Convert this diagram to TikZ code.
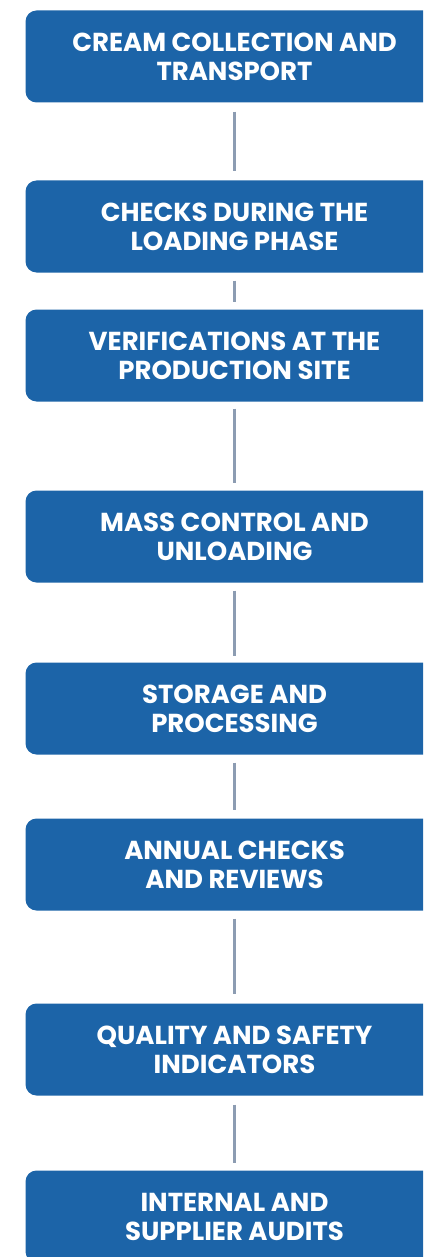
\documentclass[tikz,border=0pt]{standalone}
\usepackage{fontspec}
\setmainfont{Poppins}
\definecolor{stepblue}{HTML}{1C64A8}
\definecolor{linkgray}{HTML}{8C9CB2}
\begin{document}
\begin{tikzpicture}[x=1pt,y=-1pt,
  stepbox/.style={rectangle, rounded corners=11pt, fill=stepblue, draw=none,
    minimum width=418pt, minimum height=92pt, inner sep=0pt,
    text=white, align=center,
    font=\fontsize{26}{29}\selectfont\bfseries},
  link/.style={draw=linkgray, line width=2.2pt}]
\useasboundingbox (0,0) rectangle (423,1257);
\clip (0,0) rectangle (423,1257);
\node[stepbox] (s1) at (234.5,56.5)   {CREAM COLLECTION AND\\TRANSPORT};
\node[stepbox] (s2) at (234.5,226.5)  {CHECKS DURING THE\\LOADING PHASE};
\node[stepbox] (s3) at (234.5,355.5)  {VERIFICATIONS AT THE\\PRODUCTION SITE};
\node[stepbox] (s4) at (234.5,536.5)  {MASS CONTROL AND\\UNLOADING};
\node[stepbox] (s5) at (234.5,708.5)  {STORAGE AND\\PROCESSING};
\node[stepbox] (s6) at (234.5,864.5)  {ANNUAL CHECKS\\AND REVIEWS};
\node[stepbox] (s7) at (234.5,1049.5) {QUALITY AND SAFETY\\INDICATORS};
\node[stepbox] (s8) at (234.5,1216.5) {INTERNAL AND\\SUPPLIER AUDITS};
\draw[link] ([yshift=-9pt]s1.south) -- ([yshift=9pt]s2.north);
\draw[link] ([yshift=-8pt]s2.south) -- ([yshift=7pt]s3.north);
\draw[link] ([yshift=-7pt]s3.south) -- ([yshift=7pt]s4.north);
\draw[link] ([yshift=-8pt]s4.south) -- ([yshift=6pt]s5.north);
\draw[link] ([yshift=-8pt]s5.south) -- ([yshift=8pt]s6.north);
\draw[link] ([yshift=-8pt]s6.south) -- ([yshift=9pt]s7.north);
\draw[link] ([yshift=-9pt]s7.south) -- ([yshift=7pt]s8.north);
\end{tikzpicture}
\end{document}
